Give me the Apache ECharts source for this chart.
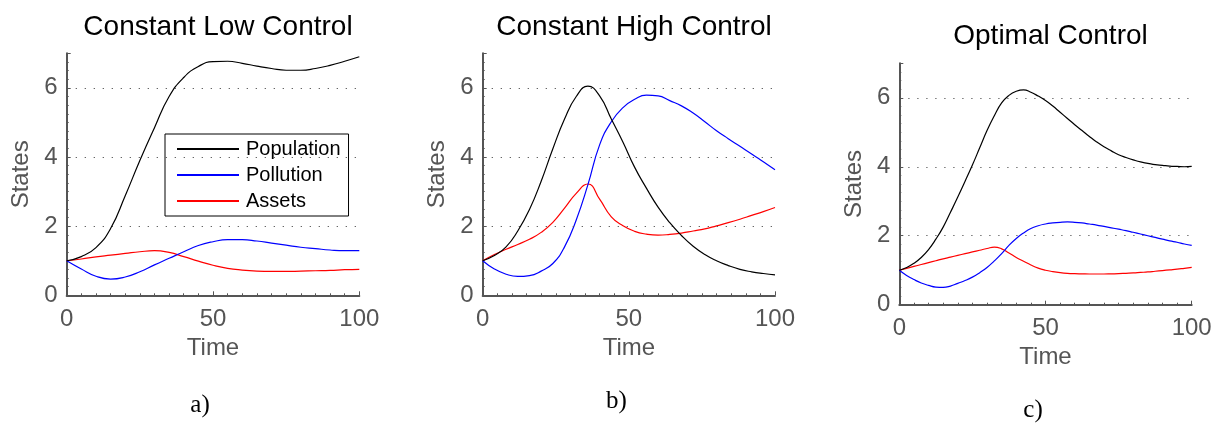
<!DOCTYPE html>
<html>
<head>
<meta charset="utf-8">
<script src="https://cdn.jsdelivr.net/npm/echarts@6/dist/echarts.min.js"></script>
<style>
  html, body { margin: 0; padding: 0; background: #fff; }
  #chart { width: 1215px; height: 425px; }
</style>
</head>
<body>
<div id="chart"></div>
<script>
// ---- data: state trajectories under three control policies ----
const seriesNames = ['Population', 'Pollution', 'Assets'];
const panelTitles = ['Constant Low Control', 'Constant High Control', 'Optimal Control'];
const panelCaptions = ['a)', 'b)', 'c)'];
const xTicks = [0, 50, 100];
const yTicks = [2, 4, 6];

// a) constant low control (sampled every 5 time units)
const timeLow = [0, 5, 10, 15, 20, 25, 30, 35, 40, 45, 50, 55, 60, 65, 70, 75, 80, 85, 90, 95, 100];
const populationLow = [1.0, 1.12, 1.38, 1.93, 2.88, 3.9, 4.85, 5.75, 6.3, 6.62, 6.76, 6.77, 6.71, 6.63, 6.56, 6.51, 6.51, 6.56, 6.65, 6.77, 6.9];
const pollutionLow = [1.0, 0.76, 0.55, 0.47, 0.53, 0.68, 0.88, 1.07, 1.26, 1.44, 1.55, 1.61, 1.61, 1.57, 1.51, 1.45, 1.39, 1.35, 1.31, 1.29, 1.29];
const assetsLow = [1.0, 1.05, 1.11, 1.16, 1.21, 1.26, 1.29, 1.24, 1.12, 0.99, 0.87, 0.78, 0.73, 0.7, 0.69, 0.69, 0.7, 0.71, 0.72, 0.74, 0.75];

// b) constant high control (sampled every 4 time units)
const timeHigh = [0, 4, 8, 12, 16, 20, 24, 28, 32, 36, 40, 44, 48, 52, 56, 60, 64, 68, 72, 76, 80, 84, 88, 92, 96, 100];
const populationHigh = [1.0, 1.15, 1.4, 1.86, 2.48, 3.3, 4.24, 5.1, 5.75, 6.05, 5.77, 5.1, 4.43, 3.7, 3.1, 2.55, 2.1, 1.73, 1.42, 1.18, 1.0, 0.86, 0.75, 0.68, 0.63, 0.59];
const pollutionHigh = [1.0, 0.76, 0.61, 0.545, 0.57, 0.7, 0.92, 1.4, 2.18, 3.2, 4.35, 5.02, 5.43, 5.67, 5.79, 5.77, 5.63, 5.48, 5.27, 5.02, 4.76, 4.53, 4.31, 4.09, 3.86, 3.63];
const assetsHigh = [1.0, 1.18, 1.33, 1.47, 1.62, 1.82, 2.11, 2.52, 2.95, 3.22, 2.78, 2.27, 2.01, 1.85, 1.77, 1.74, 1.76, 1.8, 1.86, 1.92, 2.01, 2.1, 2.2, 2.31, 2.42, 2.54];

// c) optimal control (sampled every 2.5 time units)
const timeOpt = [0, 2.5, 5, 7.5, 10, 12.5, 15, 17.5, 20, 22.5, 25, 27.5, 30, 32.5, 35, 37.5, 40, 42.5, 45, 47.5, 50,
                 52.5, 55, 57.5, 60, 62.5, 65, 67.5, 70, 72.5, 75, 77.5, 80, 82.5, 85, 87.5, 90, 92.5, 95, 97.5, 100];
const populationOpt = [1.0, 1.08, 1.2, 1.37, 1.6, 1.9, 2.25, 2.68, 3.12, 3.58, 4.05, 4.55, 5.05, 5.48, 5.85, 6.07, 6.19, 6.23, 6.16, 6.05, 5.92,
                       5.76, 5.58, 5.4, 5.22, 5.05, 4.88, 4.72, 4.58, 4.46, 4.35, 4.27, 4.2, 4.14, 4.1, 4.06, 4.04, 4.02, 4.01, 4.0, 4.01];
const pollutionOpt = [1.0, 0.85, 0.73, 0.63, 0.56, 0.51, 0.5, 0.54, 0.62, 0.7, 0.8, 0.93, 1.08, 1.27, 1.48, 1.72, 1.92, 2.08, 2.21, 2.29, 2.34,
                      2.37, 2.39, 2.4, 2.39, 2.37, 2.34, 2.31, 2.27, 2.23, 2.19, 2.15, 2.1, 2.05, 2.0, 1.95, 1.9, 1.85, 1.81, 1.76, 1.72];
const assetsOpt = [1.0, 1.055, 1.11, 1.165, 1.22, 1.275, 1.33, 1.38, 1.43, 1.48, 1.53, 1.58, 1.63, 1.67, 1.62, 1.5, 1.37, 1.26, 1.15, 1.06, 1.0,
                   0.96, 0.93, 0.91, 0.9, 0.895, 0.89, 0.89, 0.89, 0.895, 0.9, 0.91, 0.92, 0.935, 0.95, 0.97, 0.99, 1.01, 1.03, 1.055, 1.08];

const panels = [
  { time: timeLow,  values: [populationLow,  pollutionLow,  assetsLow] },
  { time: timeHigh, values: [populationHigh, pollutionHigh, assetsHigh] },
  { time: timeOpt,  values: [populationOpt,  pollutionOpt,  assetsOpt] }
];

// ---- layout & styling ----
const lineColors = ['#000000', '#0000ff', '#ff0000'];
const SANS = 'Liberation Sans, Arial, sans-serif';
const SERIF = 'Liberation Serif, Times New Roman, serif';
const AXIS_GRAY = '#555555';

const gridBoxes = [
  { left: 66.7,  top: 53.3, width: 292.6, height: 242 },
  { left: 482.7, top: 53.3, width: 292.3, height: 242 },
  { left: 899.3, top: 63.3, width: 292.4, height: 241.4 }
];
const titleBoxes = [
  { x: 213, y: 8 },
  { x: 629, y: 8 },
  { x: 1045.5, y: 17 }
];
const captionBoxes = [
  { x: 200, y: 405 },
  { x: 616.5, y: 401 },
  { x: 1033, y: 410 }
];

const chart = echarts.init(document.getElementById('chart'), null, { renderer: 'canvas' });

const grid = gridBoxes.map(b => ({ left: b.left, top: b.top, width: b.width, height: b.height, containLabel: false }));

const xAxis = gridBoxes.map((b, i) => ({
  type: 'value',
  gridIndex: i,
  min: xTicks[0],
  max: xTicks[xTicks.length - 1],
  interval: xTicks[1] - xTicks[0],
  name: 'Time',
  nameLocation: 'middle',
  nameGap: 39,
  nameTextStyle: { fontFamily: SANS, fontSize: 24, color: AXIS_GRAY },
  axisLine: { show: true, onZero: false, lineStyle: { color: AXIS_GRAY, width: 2 } },
  axisTick: { show: true, inside: true, length: 4, lineStyle: { color: AXIS_GRAY, width: 1 } },
  minorTick: { show: true, splitNumber: 10, length: 2, lineStyle: { color: AXIS_GRAY, width: 1 } },
  axisLabel: { fontFamily: SANS, fontSize: 24, color: AXIS_GRAY, margin: 12 },
  splitLine: { show: false }
}));

const yAxis = gridBoxes.map((b, i) => ({
  type: 'value',
  gridIndex: i,
  min: 0,
  max: 7,
  interval: 2,
  name: 'States',
  nameLocation: 'middle',
  nameGap: 33,
  nameTextStyle: { fontFamily: SANS, fontSize: 24, color: AXIS_GRAY },
  axisLine: { show: true, onZero: false, lineStyle: { color: AXIS_GRAY, width: 2 } },
  axisTick: { show: true, inside: true, length: 4, lineStyle: { color: AXIS_GRAY, width: 1 } },
  minorTick: { show: true, splitNumber: 8, length: 2, lineStyle: { color: AXIS_GRAY, width: 1 } },
  axisLabel: { fontFamily: SANS, fontSize: 24, color: AXIS_GRAY, margin: 9, showMaxLabel: false,
               formatter: v => (v % 2 === 0 ? String(v) : '') },
  splitLine: { show: false }
}));

const series = [];
panels.forEach((p, pi) => {
  p.values.forEach((vals, si) => {
    const s = {
      type: 'line',
      name: seriesNames[si],
      xAxisIndex: pi,
      yAxisIndex: pi,
      data: p.time.map((t, k) => [t, vals[k]]),
      showSymbol: false,
      symbol: 'none',
      smooth: 0.5,
      color: lineColors[si],
      lineStyle: { color: lineColors[si], width: 1.2 },
      z: 3 + (2 - si),
      animation: false
    };
    if (si === 0) {
      // dotted horizontal reference lines at the labelled y ticks
      s.markLine = {
        silent: true,
        symbol: 'none',
        animation: false,
        label: { show: false },
        lineStyle: { color: '#555555', width: 1.2, type: [1.2, 7.8] },
        emphasis: { disabled: true },
        data: yTicks.map(v => ({ yAxis: v }))
      };
    }
    series.push(s);
  });
});

const title = panelTitles.map((t, i) => ({
  text: t,
  left: titleBoxes[i].x,
  top: titleBoxes[i].y,
  textAlign: 'center',
  textStyle: { fontFamily: SANS, fontSize: 28, fontWeight: 'normal', color: '#000' }
}));

const graphic = panelCaptions.map((c, i) => ({
  type: 'text',
  x: captionBoxes[i].x,
  y: captionBoxes[i].y,
  style: {
    text: c,
    fontFamily: SERIF,
    fontSize: 25,
    fill: '#000',
    textAlign: 'center',
    textVerticalAlign: 'middle'
  }
}));

chart.setOption({
  animation: false,
  backgroundColor: '#ffffff',
  title,
  grid,
  xAxis,
  yAxis,
  legend: {
    data: seriesNames,
    orient: 'vertical',
    left: 165,
    top: 134,
    padding: [5, 8, 5, 12],
    itemGap: 6,
    itemWidth: 62,
    itemHeight: 2,
    icon: 'rect',
    backgroundColor: '#ffffff',
    borderColor: '#000000',
    borderWidth: 1,
    borderRadius: 0,
    selectedMode: false,
    textStyle: { fontFamily: SANS, fontSize: 20, color: '#000', lineHeight: 20, padding: [0, 0, 0, 2] }
  },
  graphic,
  series
});
</script>
</body>
</html>
